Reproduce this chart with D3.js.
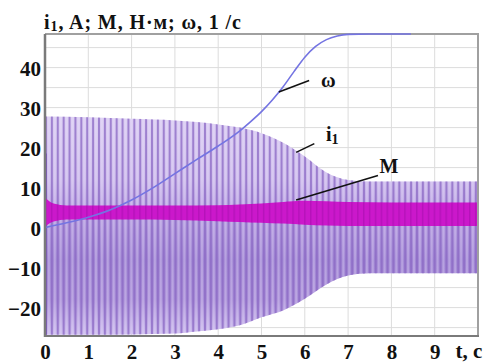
<!DOCTYPE html>
<html>
<head>
<meta charset="utf-8">
<script src="https://cdn.jsdelivr.net/npm/d3@7"></script>
<style>
  html, body { margin: 0; padding: 0; background: #fff; }
  svg { display: block; }
  text { font-family: "Liberation Serif", "Times New Roman", serif; font-weight: bold; fill: #111; }
</style>
</head>
<body>
<svg id="chart" width="489" height="364"></svg>
<script>
// Time axis ticks, seconds
const xTicks = [0, 1, 2, 3, 4, 5, 6, 7, 8, 9];
const yTicks = [-20, -10, 0, 10, 20, 30, 40];
const yGrid = [-25, -20, -15, -10, -5, 0, 5, 10, 15, 20, 25, 30, 35, 40, 45];

// Stator current i1: envelope of the oscillation, A
const i1Time  = [0, 1, 2, 3, 3.5, 4, 4.5, 5, 5.5, 6, 6.5, 7, 7.5, 8, 10];
const i1Upper = [27.8, 27.6, 27.2, 26.8, 26.4, 25.8, 25.0, 23.6, 21.2, 17.8, 13.8, 11.9, 11.5, 11.5, 11.5];
const i1Lower = [-26.8, -26.8, -26.7, -26.5, -26.0, -25.4, -24.4, -22.4, -20.7, -17.8, -14.2, -12.0, -11.4, -11.4, -11.4];

// Electromagnetic torque M: band of the pulsation, N·m
const mTime  = [0, 0.1, 0.2, 0.5, 1, 2, 3, 4, 4.5, 5, 5.5, 6, 6.5, 7, 8, 10];
const mUpper = [7.5, 6.6, 6.0, 5.5, 5.5, 5.5, 5.5, 5.6, 5.8, 6.0, 6.4, 6.7, 6.6, 6.4, 6.3, 6.3];
const mLower = [0.2, 1.0, 1.5, 2.0, 2.0, 2.0, 1.9, 1.6, 1.4, 1.2, 1.0, 0.7, 0.5, 0.4, 0.4, 0.4];

// Rotor angular speed ω, 1/s
const wTime  = [0, 0.5, 1, 1.5, 2, 2.5, 3, 3.5, 4, 4.5, 4.75, 5, 5.25, 5.5, 5.75, 6, 6.25, 6.5, 6.75, 7, 7.5, 8.45];
const wValue = [0, 1.2, 2.6, 4.4, 6.9, 10.0, 13.5, 17.0, 20.4, 24.2, 26.5, 29.0, 31.9, 35.2, 39.0, 42.6, 45.3, 47.0, 47.9, 48.3, 48.4, 48.4];

const svg = d3.select("#chart");
const x = d3.scaleLinear().domain([0, 10]).range([45, 478]);
const y = d3.scaleLinear().domain([-27.1, 48.4]).range([336, 34]);

const defs = svg.append("defs");

// shading of the current band: denser in the middle, lighter at the peaks
const grad = defs.append("linearGradient")
  .attr("id", "i1Fill").attr("gradientUnits", "userSpaceOnUse")
  .attr("x1", 0).attr("x2", 0).attr("y1", y(28)).attr("y2", y(-27));
[[28, "#dccff3"], [12, "#cfbeed"], [3, "#b79fe1"], [-8, "#a187d4"], [-18, "#a98fd8"], [-27, "#cdbdee"]]
  .forEach(([v, c]) => grad.append("stop").attr("offset", (28 - v) / 55).attr("stop-color", c));

// fine vertical hatching left by the fast oscillation
const period = x(0.136) - x(0);
const pat = defs.append("pattern").attr("id", "i1Hatch")
  .attr("patternUnits", "userSpaceOnUse").attr("width", period).attr("height", 10).attr("x", x(0));
pat.append("rect").attr("x", 0).attr("width", 2).attr("height", 10).attr("fill", "#8a68c4").attr("opacity", 0.75);
pat.append("rect").attr("x", 3.4).attr("width", 1).attr("height", 10).attr("fill", "#ece4fa").attr("opacity", 0.55);

const patM = defs.append("pattern").attr("id", "mHatch")
  .attr("patternUnits", "userSpaceOnUse").attr("width", period).attr("height", 10).attr("x", x(0));
patM.append("rect").attr("x", 0).attr("width", 1.5).attr("height", 10).attr("fill", "#9c0aa4").attr("opacity", 0.45);

// grid
const gridG = svg.append("g");
gridG.selectAll("line.v").data(d3.range(1, 10)).join("line")
  .attr("x1", d => x(d)).attr("x2", d => x(d)).attr("y1", y.range()[1]).attr("y2", y.range()[0])
  .attr("stroke", "#dcdcdc").attr("stroke-width", 1);
gridG.selectAll("line.h").data(yGrid).join("line")
  .attr("x1", x.range()[0]).attr("x2", x.range()[1]).attr("y1", d => y(d)).attr("y2", d => y(d))
  .attr("stroke", "#dcdcdc").attr("stroke-width", 1);

// current band
const i1Data = i1Time.map((t, k) => ({ t, hi: i1Upper[k], lo: i1Lower[k] }));
const i1Area = d3.area().x(d => x(d.t)).y0(d => y(d.lo)).y1(d => y(d.hi)).curve(d3.curveMonotoneX);
svg.append("path").datum(i1Data).attr("d", i1Area).attr("fill", "url(#i1Fill)");
svg.append("path").datum(i1Data).attr("d", i1Area).attr("fill", "url(#i1Hatch)");

// starting current spike at t = 0
svg.append("line").attr("x1", x(0) + 1).attr("x2", x(0) + 1).attr("y1", y(18.5)).attr("y2", y(-26.8))
  .attr("stroke", "#7d58bd").attr("stroke-width", 2);

// torque band
const mData = mTime.map((t, k) => ({ t, hi: mUpper[k], lo: mLower[k] }));
const mArea = d3.area().x(d => x(d.t)).y0(d => y(d.lo)).y1(d => y(d.hi)).curve(d3.curveMonotoneX);
svg.append("path").datum(mData).attr("d", mArea).attr("fill", "#cb18cb");
svg.append("path").datum(mData).attr("d", mArea).attr("fill", "url(#mHatch)");

// frame
svg.append("path")
  .attr("d", `M${x.range()[0]},${y.range()[1]}H${x.range()[1]}V${y.range()[0]}`)
  .attr("fill", "none").attr("stroke", "#a0a0a0").attr("stroke-width", 2);

// speed curve
const wLine = d3.line().x((d, k) => x(wTime[k])).y(d => y(d)).curve(d3.curveMonotoneX);
svg.append("path").datum(wValue).attr("d", wLine)
  .attr("fill", "none").attr("stroke", "#7474e2").attr("stroke-width", 1.6);

// axes
const yAxis = svg.append("g").attr("transform", `translate(${x.range()[0]},0)`)
  .call(d3.axisLeft(y).tickValues(yTicks).tickSize(0).tickPadding(4));
yAxis.select(".domain").remove();
yAxis.selectAll("text").attr("font-size", 21).attr("font-family", null).attr("dy", "0.38em");

const xAxis = svg.append("g").attr("transform", `translate(0,${y.range()[0]})`)
  .call(d3.axisBottom(x).tickValues(xTicks).tickSize(0).tickPadding(8));
xAxis.select(".domain").remove();
xAxis.selectAll("text").attr("font-size", 21).attr("font-family", null);

svg.append("line").attr("x1", x.range()[0]).attr("x2", x.range()[0])
  .attr("y1", y.range()[1]).attr("y2", y.range()[0] + 1)
  .attr("stroke", "#7a7a7a").attr("stroke-width", 2.5);
svg.append("line").attr("x1", x.range()[0]).attr("x2", x.range()[1] + 1)
  .attr("y1", y.range()[0]).attr("y2", y.range()[0])
  .attr("stroke", "#7a7a7a").attr("stroke-width", 2);

svg.append("text").attr("x", 469).attr("y", 358).attr("text-anchor", "middle")
  .attr("font-size", 21).text("t, с");

// quantity heading
const title = svg.append("text").attr("x", 44).attr("y", 29).attr("font-size", 20)
  .attr("letter-spacing", 0.9);
title.append("tspan").text("i");
title.append("tspan").attr("font-size", 14).attr("dy", 2).text("1");
title.append("tspan").attr("dy", -2).text(", A; M, Н·м; ω, 1 /с");

// curve callouts
const callouts = [
  { name: "ω", sub: null, from: [5.4, 33.9], to: [6.1, 36.8], lx: 321, ly: 87 },
  { name: "i", sub: "1", from: [5.8, 18.8], to: [6.22, 21.0], lx: 326, ly: 141 },
  { name: "M", sub: null, from: [5.8, 6.9], to: [7.69, 13.0], lx: 389, ly: 173 }
];
callouts.forEach(c => {
  svg.append("line")
    .attr("x1", x(c.from[0])).attr("y1", y(c.from[1]))
    .attr("x2", x(c.to[0])).attr("y2", y(c.to[1]))
    .attr("stroke", "#111").attr("stroke-width", 1.6);
  const t = svg.append("text").attr("x", c.lx).attr("y", c.ly).attr("font-size", 20)
    .attr("text-anchor", c.name === "M" ? "middle" : "start");
  t.append("tspan").text(c.name);
  if (c.sub) t.append("tspan").attr("font-size", 14).attr("dy", 3).text(c.sub);
});
</script>
</body>
</html>
